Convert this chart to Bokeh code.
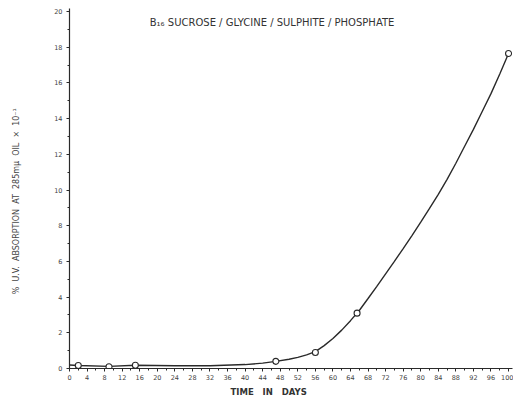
from bokeh.plotting import figure
from bokeh.models import Range1d, Label, FixedTicker, Title
from bokeh.embed import file_html
from bokeh.resources import INLINE

# measured points (circles)
days = [2, 9, 15, 47, 56, 65.5, 100]
absorption = [0.17, 0.1, 0.18, 0.4, 0.9, 3.1, 17.65]

# hand-drawn smooth curve
curve_days = [0, 2, 9, 15, 24, 32, 40, 44, 47, 50, 52, 54, 56, 58, 60, 62, 64, 66, 68, 70, 72, 74, 76, 78, 80,
              82, 84, 86, 88, 90, 92, 94, 96, 98, 100]
curve_vals = [0.2, 0.17, 0.12, 0.18, 0.15, 0.15, 0.22, 0.3, 0.4, 0.52, 0.62, 0.76, 0.95, 1.28, 1.68, 2.15, 2.68, 3.25,
              3.92, 4.6, 5.3, 6.0, 6.72, 7.45, 8.2, 8.97, 9.76, 10.6, 11.5, 12.45, 13.4, 14.4, 15.4, 16.5, 17.65]

x_ticks = list(range(0, 101, 4))
y_ticks = list(range(0, 21, 2))

NB = "\u00a0"
title_text = "B\u2081\u2086  SUCROSE / GLYCINE / SULPHITE / PHOSPHATE"
x_label = "TIME" + NB * 2 + " IN" + NB * 2 + " DAYS"
y_label = ("%" + NB + " U.V." + NB + " ABSORPTION" + NB + " AT" + NB + " 285m\u03bc" + NB + " OIL"
           + NB + " \u00d7" + NB + " 10\u207b\u00b9" + NB * 10)

ink = "#2a2a2a"

p = figure(width=513, height=407, output_backend="svg", toolbar_location=None,
           x_range=Range1d(0, 100.9), y_range=Range1d(0, 20.17),
           min_border_left=69, min_border_right=1, min_border_top=8, min_border_bottom=39)
p.frame_width = 443
p.frame_height = 360
p.outline_line_color = None
p.grid.visible = False
p.background_fill_color = "white"

for ax in (p.xaxis[0], p.yaxis[0]):
    ax.axis_line_color = ink
    ax.axis_line_width = 1.2
    ax.major_tick_line_color = ink
    ax.minor_tick_line_color = ink
    ax.major_label_text_font = "DejaVu Sans"
    ax.major_label_text_font_size = "6.5px"
    ax.major_label_text_color = "#444444"
    ax.major_tick_out = 3
    ax.major_tick_in = 0
    ax.minor_tick_out = 2
    ax.minor_tick_in = 0

p.xaxis.ticker = FixedTicker(ticks=x_ticks, minor_ticks=list(range(0, 101, 2)))
p.yaxis.ticker = FixedTicker(ticks=y_ticks, minor_ticks=list(range(0, 21, 1)))
p.xaxis.major_label_standoff = 3
p.yaxis.major_label_standoff = 4

p.yaxis.axis_label = y_label
p.yaxis.axis_label_standoff = 30
p.yaxis.axis_label_text_font = "DejaVu Sans"
p.yaxis.axis_label_text_font_size = "8px"
p.yaxis.axis_label_text_font_style = "normal"
p.yaxis.axis_label_text_color = "#444444"

p.line(curve_days, curve_vals, line_color=ink, line_width=1.4)
p.scatter(days, absorption, marker="circle", size=6, fill_color="white",
          line_color=ink, line_width=1.1)

p.add_layout(Label(x=46.5, y=19.38, text=title_text, text_font="DejaVu Sans",
                   text_font_size="10px", text_color="#333333",
                   text_align="center", text_baseline="middle"))

p.add_layout(Title(text=x_label, text_font="DejaVu Sans", text_font_size="8.5px",
                   text_font_style="bold", text_color="#333333", align="left",
                   offset=161, standoff=4), "below")

open("out.html", "w").write(file_html(p, INLINE))
